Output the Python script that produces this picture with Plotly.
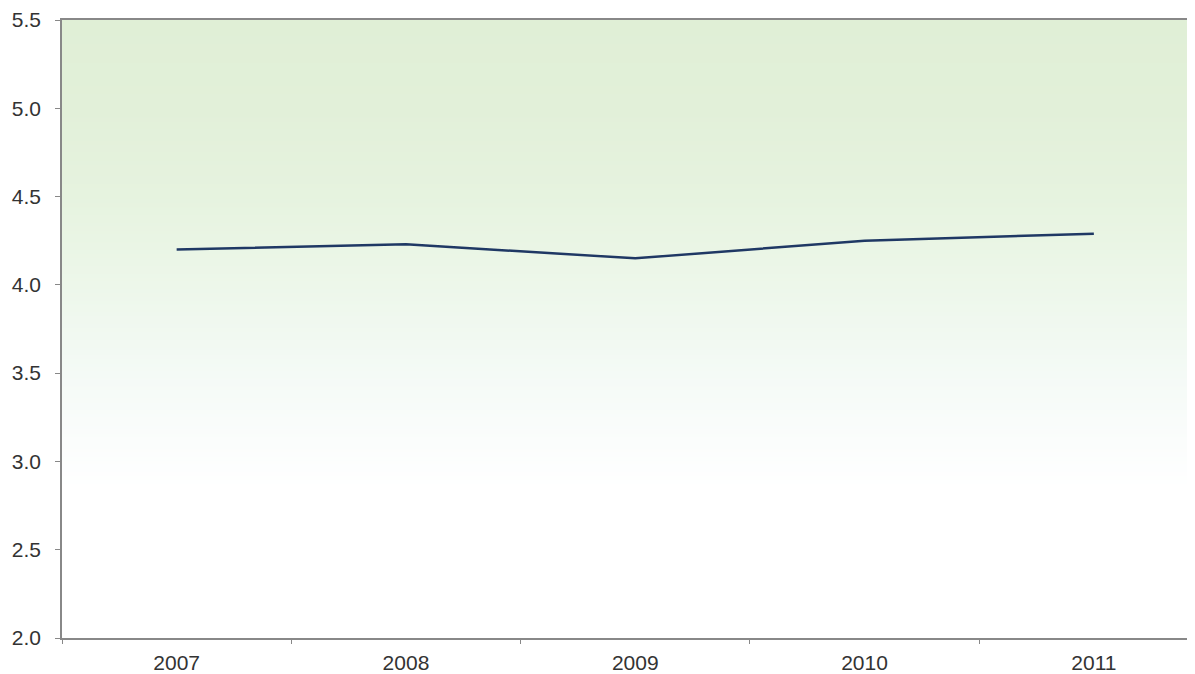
import plotly.graph_objects as go

years = ["2007", "2008", "2009", "2010", "2011"]
values = [4.20, 4.23, 4.15, 4.25, 4.29]
y_ticks = [2.0, 2.5, 3.0, 3.5, 4.0, 4.5, 5.0, 5.5]

fig = go.Figure()
fig.add_trace(go.Scatter(
    x=years, y=values, mode="lines",
    line=dict(color="#1f3864", width=2.5),
    showlegend=False, hoverinfo="x+y",
))

# gradient background: green at top fading to white near 3.0
stops = [(5.5, (224, 239, 214)), (5.0, (226, 240, 217)), (4.5, (230, 243, 223)),
         (4.0, (237, 247, 234)), (3.5, (244, 250, 246)), (3.1, (251, 253, 252)),
         (2.85, (255, 255, 255))]
shapes = []
n = 120
lo, hi = 2.85, 5.5
for i in range(n):
    y0 = lo + (hi - lo) * i / n
    y1 = lo + (hi - lo) * (i + 1) / n
    ym = (y0 + y1) / 2
    for j in range(len(stops) - 1):
        a, ca = stops[j]
        b, cb = stops[j + 1]
        if b <= ym <= a:
            t = (a - ym) / (a - b)
            c = tuple(round(ca[k] + (cb[k] - ca[k]) * t) for k in range(3))
            break
    shapes.append(dict(type="rect", xref="paper", yref="y", x0=0, x1=1,
                       y0=y0, y1=y1 + 0.005, fillcolor="rgb(%d,%d,%d)" % c,
                       line=dict(width=0), layer="below"))

font = dict(family="Liberation Sans, Arial, sans-serif", size=21, color="#333333")

W = 1195
L = 54
fig.update_layout(
    width=W, height=674,
    margin=dict(l=L, r=0, t=4, b=44),
    paper_bgcolor="white", plot_bgcolor="white",
    shapes=shapes,
    font=font,
    xaxis=dict(
        type="category", range=[-0.5, -0.5 + (W - L) / 229.3],
        tickson="boundaries", ticks="outside", ticklen=4, tickcolor="#888888",
        showline=True, linecolor="#888888", linewidth=1.5, mirror=True,
        showgrid=False, zeroline=False, tickfont=font,
        ticklabelstandoff=5,
    ),
    yaxis=dict(
        range=[2.0, 5.5], tickvals=y_ticks,
        ticktext=["%.1f" % v for v in y_ticks],
        ticks="outside", ticklen=5, tickcolor="#888888",
        showline=True, linecolor="#888888", linewidth=1.5,
        showgrid=False, zeroline=False, tickfont=font,
        ticklabelstandoff=10, ticklabeloverflow="allow",
    ),
)

fig.write_html("out.html")
